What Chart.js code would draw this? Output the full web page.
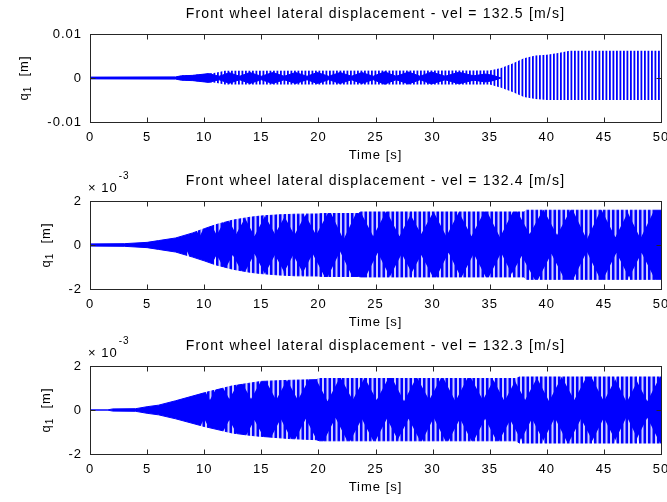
<!DOCTYPE html>
<html>
<head>
<meta charset="utf-8">
<script src="https://cdn.jsdelivr.net/npm/chart.js@4/dist/chart.umd.min.js"></script>
<style>
  html, body { margin: 0; padding: 0; background: #fff; overflow: hidden; width: 667px; height: 502px; }
  canvas { position: absolute; left: 0; }
</style>
</head>
<body>
<canvas id="p1" width="680" height="167" style="top:0"></canvas>
<canvas id="p2" width="680" height="167" style="top:167px"></canvas>
<canvas id="p3" width="680" height="167" style="top:332px"></canvas>
<script>
// ---------------------------------------------------------------
// Front wheel lateral displacement q1 for three forward speeds.
// The response is a fast oscillation, so each run is described by
// its envelope (upper / lower bound) plus the inner structure of
// the band: the solid core of the beats (run 1) and the beat
// notches where the band thins out (runs 2 and 3).
// ---------------------------------------------------------------

const titles = [
  'Front wheel lateral displacement - vel = 132.5 [m/s]',
  'Front wheel lateral displacement - vel = 132.4 [m/s]',
  'Front wheel lateral displacement - vel = 132.3 [m/s]'
];
const xLabel = 'Time [s]';
const timeRange = [0, 50];
const timeStep = 5;

// Run 1 (vel = 132.5 m/s), values in m
const r1OuterT  = [0, 7.5, 8, 9, 10, 11, 11.8, 35, 36, 37, 38, 39, 40, 41, 42, 50];
const r1OuterHi = [0.0002, 0.00025, 0.00055, 0.0007, 0.0009, 0.0012, 0.00165, 0.0017, 0.0023, 0.0033, 0.0045, 0.0051, 0.0053, 0.0057, 0.0062, 0.0062];
const r1OuterLo = [-0.0002, -0.00025, -0.0005, -0.00065, -0.0009, -0.0011, -0.0015, -0.0015, -0.0022, -0.0032, -0.0043, -0.0048, -0.005, -0.005, -0.005, -0.005];
const r1CoreT   = [0, 7.5, 8, 9, 10.4, 11.3, 12.2, 13.1, 14, 15, 16, 17, 18, 19, 19.9, 20.9, 21.9, 22.9, 23.8, 24.8, 25.8, 26.8, 27.9, 28.9, 29.9, 31.1, 32.3, 33.6, 34.6, 35.3, 36];
const r1CoreHi  = [0.0002, 0.00025, 0.0005, 0.0006, 0.001, 0.0004, 0.0012, 0.0004, 0.00125, 0.0004, 0.00125, 0.0004, 0.00125, 0.0004, 0.00125, 0.0004, 0.00125, 0.0004, 0.00125, 0.0004, 0.0014, 0.0004, 0.00135, 0.0004, 0.00135, 0.0004, 0.0013, 0.0005, 0.0009, 0.0006, 0];
const r1CoreLo  = [-0.0002, -0.00025, -0.0005, -0.0006, -0.001, -0.0004, -0.0012, -0.0004, -0.00125, -0.0004, -0.00125, -0.0004, -0.00125, -0.0004, -0.00125, -0.0004, -0.00125, -0.0004, -0.00125, -0.0004, -0.0014, -0.0004, -0.00135, -0.0004, -0.00135, -0.0004, -0.0013, -0.0005, -0.0009, -0.0006, 0];
const r1Ticks   = [-0.01, 0, 0.01];

// Run 2 (vel = 132.4 m/s), values in 1e-3 m
const r2EnvT  = [0, 3, 5, 6, 7.5, 9, 10, 11, 12.5, 14, 15, 16.5, 18, 20, 20.3, 23.5, 23.7, 38.0, 38.2, 50];
const r2EnvHi = [0.05, 0.06, 0.12, 0.2, 0.32, 0.55, 0.74, 0.92, 1.13, 1.26, 1.32, 1.37, 1.4, 1.41, 1.43, 1.43, 1.5, 1.5, 1.58, 1.58];
const r2EnvLo = [-0.05, -0.06, -0.12, -0.2, -0.32, -0.55, -0.72, -0.9, -1.1, -1.24, -1.3, -1.36, -1.4, -1.41, -1.43, -1.43, -1.45, -1.45, -1.56, -1.56];
const r2NotchHiT = [9.6, 11.1, 12.8, 14.4, 16.2, 17.9, 19.8, 22.2, 24.8, 27.1, 29.0, 31.2, 33.4, 35.9, 38.5, 40.9, 43.5, 46.0, 48.2];
const r2NotchHi  = [0.4, 0.45, 0.5, 0.4, 0.5, 0.45, 0.45, 0.25, 0.4, 0.4, 0.5, 0.4, 0.4, 0.35, 0.5, 0.45, 0.25, 0.35, 0.3];
const r2NotchLoT = [8.5, 11.1, 12.5, 14.4, 16.2, 17.8, 19.5, 21.9, 25.2, 27.3, 29.0, 31.4, 33.6, 36.0, 37.8, 40.4, 43.5, 46.1, 48.3];
const r2NotchLo  = [-0.3, -0.45, -0.45, -0.4, -0.45, -0.45, -0.4, -0.3, -0.35, -0.4, -0.45, -0.35, -0.4, -0.35, -0.5, -0.4, -0.3, -0.35, -0.35];

// Run 3 (vel = 132.3 m/s), values in 1e-3 m
const r3EnvT  = [0, 1.5, 2, 4, 5, 6, 7.5, 10, 12.5, 14, 15, 17.5, 19.8, 20.1, 37.3, 37.6, 50];
const r3EnvHi = [0, 0, 0.05, 0.06, 0.15, 0.22, 0.42, 0.78, 1.1, 1.22, 1.3, 1.35, 1.38, 1.43, 1.43, 1.5, 1.5];
const r3EnvLo = [0, 0, -0.05, -0.06, -0.15, -0.22, -0.4, -0.75, -1.05, -1.15, -1.2, -1.3, -1.35, -1.4, -1.4, -1.5, -1.5];
const r3NotchHiT = [10.5, 12.2, 14.1, 16.3, 18.2, 20.8, 23.0, 25.1, 27.5, 29.7, 32.0, 34.4, 36.3, 38.1, 40.2, 42.4, 45.0, 47.0, 48.8];
const r3NotchHi  = [0.45, 0.5, 0.5, 0.45, 0.45, 0.4, 0.45, 0.45, 0.4, 0.45, 0.4, 0.45, 0.4, 0.45, 0.4, 0.45, 0.4, 0.35, 0.4];
const r3NotchLoT = [10.0, 12.2, 14.4, 16.7, 18.9, 21.5, 23.8, 26.0, 27.9, 30.1, 32.4, 34.6, 36.8, 38.7, 40.7, 43.0, 45.0, 47.0, 48.8];
const r3NotchLo  = [-0.4, -0.45, -0.45, -0.4, -0.4, -0.35, -0.4, -0.4, -0.4, -0.35, -0.4, -0.4, -0.45, -0.4, -0.35, -0.4, -0.35, -0.3, -0.35];
const milliTicks = [-2, 0, 2];

// ---------------------------------------------------------------
const FONT = '"Liberation Sans", Arial, Helvetica, sans-serif';
const BLUE = '#0000ff';
const INK = '#000000';
const BOX = '#262626';
const PLOT_TOP = 34, PLOT_H = 88, CANVAS_H = 167, PLOT_LEFT = 90, RIGHT_PAD = 19;
const NOTCH_HALF = 1.6;   // half width of a beat notch, in seconds

const pts = (ts, vs) => ts.map((t, i) => ({ x: t, y: vs[i] }));

// A notch is a thin-striped wedge hanging from the plot edge down to its tip value.
function notchPts(ts, vs, edge) {
  const out = [];
  ts.forEach((t, i) => {
    out.push({ x: t - NOTCH_HALF, y: edge }, { x: t, y: vs[i] }, { x: t + NOTCH_HALF, y: edge }, { x: t + NOTCH_HALF, y: null });
  });
  return out;
}

function stripes(canvas, period, bars, color) {
  const c = document.createElement('canvas');
  c.width = period; c.height = 4;
  const g = c.getContext('2d');
  g.fillStyle = color;
  bars.forEach(([x, w]) => g.fillRect(x, 0, w, 4));
  return canvas.getContext('2d').createPattern(c, 'repeat');
}

const decor = {
  id: 'decor',
  beforeUpdate(chart) { chart.ctx.letterSpacing = '1px'; },
  beforeDraw(chart) { chart.ctx.letterSpacing = '1px'; },
  afterDraw(chart, args, o) {
    const { ctx, chartArea: a, scales: { x, y } } = chart;
    ctx.save();
    const L = Math.round(a.left) + 0.5, R = Math.round(a.right) + 0.5;
    const T = Math.round(a.top) + 0.5, B = Math.round(a.bottom) + 0.5;
    ctx.strokeStyle = BOX; ctx.lineWidth = 1;
    ctx.strokeRect(L, T, R - L, B - T);
    ctx.beginPath();
    x.ticks.forEach(t => {
      const px = Math.round(x.getPixelForValue(t.value)) + 0.5;
      ctx.moveTo(px, B); ctx.lineTo(px, B - 5);
      ctx.moveTo(px, T); ctx.lineTo(px, T + 5);
    });
    y.ticks.forEach(t => {
      const py = Math.round(y.getPixelForValue(t.value)) + 0.5;
      ctx.moveTo(L, py); ctx.lineTo(L + 5, py);
      ctx.moveTo(R, py); ctx.lineTo(R - 5, py);
    });
    ctx.stroke();

    const cx = (a.left + a.right) / 2;
    ctx.fillStyle = INK;
    ctx.textBaseline = 'middle';

    // title
    ctx.font = '14px ' + FONT;
    ctx.letterSpacing = '1.2px';
    ctx.textAlign = 'center';
    ctx.fillText(o.title, cx, a.top - 20);

    // x axis title
    ctx.font = '13px ' + FONT;
    ctx.letterSpacing = '1px';
    ctx.fillText(xLabel, cx, a.bottom + 33);

    // y axis title: q with subscript 1, then unit
    ctx.save();
    ctx.translate(o.yLabelX, (a.top + a.bottom) / 2);
    ctx.rotate(-Math.PI / 2);
    ctx.textAlign = 'left';
    ctx.font = '13px ' + FONT;
    const wq = ctx.measureText('q').width;
    ctx.font = '10px ' + FONT;
    const w1 = ctx.measureText('1').width;
    ctx.font = '13px ' + FONT;
    const wu = ctx.measureText('  [m]').width;
    let sx = -(wq + w1 + wu) / 2;
    ctx.fillText('q', sx, 0); sx += wq;
    ctx.font = '10px ' + FONT;
    ctx.fillText('1', sx, 4); sx += w1;
    ctx.font = '13px ' + FONT;
    ctx.fillText('  [m]', sx, 0);
    ctx.restore();

    // axis multiplier
    if (o.exponent) {
      ctx.textAlign = 'left';
      ctx.font = '13px ' + FONT;
      ctx.fillText('\u00d7 10', a.left - 2, a.top - 13);
      const w = ctx.measureText('\u00d7 10').width;
      ctx.font = '10px ' + FONT;
      ctx.fillText('-3', a.left - 1 + w, a.top - 25);
    }
    ctx.restore();
  }
};

function makeChart(id, datasets, yMin, yMax, yTicks, tickFmt, title, yLabelX, exponent) {
  const canvas = document.getElementById(id);
  return new Chart(canvas, {
    type: 'line',
    data: { datasets: datasets(canvas) },
    options: {
      responsive: false,
      animation: false,
      events: [],
      layout: { padding: { top: PLOT_TOP, right: RIGHT_PAD, left: 0, bottom: 0 } },
      elements: { point: { radius: 0 }, line: { tension: 0 } },
      plugins: {
        legend: { display: false },
        tooltip: { enabled: false },
        decor: { title, yLabelX, exponent }
      },
      scales: {
        x: {
          type: 'linear', min: timeRange[0], max: timeRange[1],
          grid: { display: false, drawTicks: false },
          border: { display: false },
          ticks: { stepSize: timeStep, autoSkip: false, maxRotation: 0, padding: 8, color: INK, font: { family: FONT, size: 13 } },
          afterFit(s) { s.height = CANVAS_H - PLOT_TOP - PLOT_H; }
        },
        y: {
          type: 'linear', min: yMin, max: yMax,
          grid: { display: false, drawTicks: false },
          border: { display: false },
          afterBuildTicks(s) { s.ticks = yTicks.map(v => ({ value: v })); },
          ticks: { padding: 8, color: INK, font: { family: FONT, size: 13 }, callback: tickFmt },
          afterFit(s) { s.width = PLOT_LEFT; }
        }
      }
    },
    plugins: [decor]
  });
}

const lineBase = { pointRadius: 0, tension: 0, spanGaps: false };

// Run 1: striped outer band with the solid beat core on top
makeChart('p1', canvas => {
  const outerFill = stripes(canvas, 7, [[0, 1.8], [3.5, 1.8]], BLUE);
  return [
    { ...lineBase, label: 'q1 core +', data: pts(r1CoreT, r1CoreHi), borderColor: BLUE, borderWidth: 1, backgroundColor: BLUE, fill: 'origin', order: 1 },
    { ...lineBase, label: 'q1 core -', data: pts(r1CoreT, r1CoreLo), borderColor: BLUE, borderWidth: 1, backgroundColor: BLUE, fill: 'origin', order: 1 },
    { ...lineBase, label: 'q1 max', data: pts(r1OuterT, r1OuterHi), borderColor: 'rgba(0,0,255,0)', borderWidth: 0, backgroundColor: outerFill, fill: 'origin', order: 2 },
    { ...lineBase, label: 'q1 min', data: pts(r1OuterT, r1OuterLo), borderColor: 'rgba(0,0,255,0)', borderWidth: 0, backgroundColor: outerFill, fill: 'origin', order: 2 }
  ];
}, -0.01, 0.01, r1Ticks, v => String(Math.round(v * 100) / 100), titles[0], 24, false);

function notchedRun(envT, envHi, envLo, nHiT, nHi, nLoT, nLo) {
  return canvas => {
    const notchFill = stripes(canvas, 9, [[2.5, 2], [7, 2]], 'rgba(255,255,255,0.8)');
    return [
      { ...lineBase, label: 'notch +', data: notchPts(nHiT, nHi, 2), borderWidth: 0, borderColor: 'rgba(0,0,0,0)', backgroundColor: notchFill, fill: 'end', order: 0 },
      { ...lineBase, label: 'notch -', data: notchPts(nLoT, nLo, -2), borderWidth: 0, borderColor: 'rgba(0,0,0,0)', backgroundColor: notchFill, fill: 'start', order: 0 },
      { ...lineBase, label: 'q1 max', data: pts(envT, envHi), borderColor: BLUE, borderWidth: 1, backgroundColor: BLUE, fill: 'origin', order: 2 },
      { ...lineBase, label: 'q1 min', data: pts(envT, envLo), borderColor: BLUE, borderWidth: 1, backgroundColor: BLUE, fill: 'origin', order: 2 }
    ];
  };
}

const milliFmt = v => String(Math.round(v));
makeChart('p2', notchedRun(r2EnvT, r2EnvHi, r2EnvLo, r2NotchHiT, r2NotchHi, r2NotchLoT, r2NotchLo),
  -2, 2, milliTicks, milliFmt, titles[1], 46, true);
makeChart('p3', notchedRun(r3EnvT, r3EnvHi, r3EnvLo, r3NotchHiT, r3NotchHi, r3NotchLoT, r3NotchLo),
  -2, 2, milliTicks, milliFmt, titles[2], 46, true);
</script>
</body>
</html>
